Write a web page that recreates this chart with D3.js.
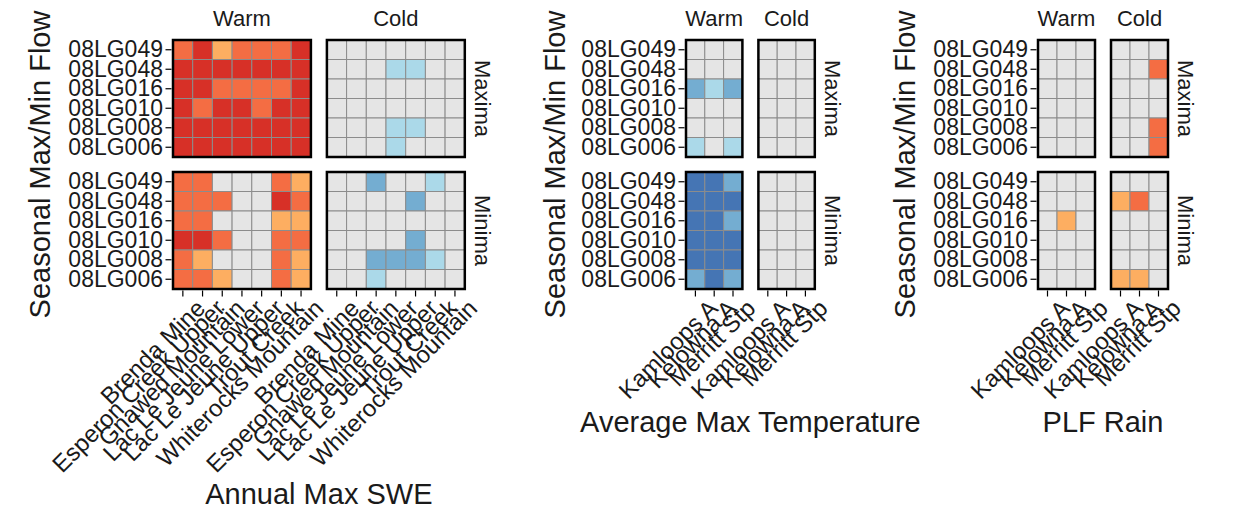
<!DOCTYPE html>
<html>
<head>
<meta charset="utf-8">
<script src="https://cdn.jsdelivr.net/npm/d3@7"></script>
<style>
  body { margin: 0; background: #fff; }
  text { font-family: "Liberation Sans", Arial, sans-serif; fill: #1a1a1a; }
</style>
</head>
<body>
<div id="chart"></div>
<script>
// rows of every facet, top to bottom
var gauges = ["08LG049", "08LG048", "08LG016", "08LG010", "08LG008", "08LG006"];
var seasons = ["Warm", "Cold"];
var extremes = ["Maxima", "Minima"];

var sweSites = ["Brenda Mine", "Esperon Creek Upper", "Gnawed Mountain", "Lac Le Jeune Lower",
                "Lac Le Jeune Upper", "Trout Creek", "Whiterocks Mountain"];
var climSites = ["Kamloops A", "Kelowna A", "Merritt Stp"];

// class of each cell: 3..1 positive (reds), 0 none, -1..-3 negative (blues)
var sweWarmMax = [[2,3,1,2,2,2,3],[3,3,3,3,3,3,3],[3,3,2,2,2,2,3],[3,2,3,3,2,3,3],[3,3,3,3,3,3,3],[3,3,3,3,3,3,3]];
var sweColdMax = [[0,0,0,0,0,0,0],[0,0,0,-1,-1,0,0],[0,0,0,0,0,0,0],[0,0,0,0,0,0,0],[0,0,0,-1,-1,0,0],[0,0,0,-1,0,0,0]];
var sweWarmMin = [[2,2,0,0,0,2,1],[2,2,2,0,0,3,2],[2,2,0,0,0,1,1],[3,3,2,0,0,2,2],[2,1,0,0,0,2,1],[2,2,1,0,0,2,1]];
var sweColdMin = [[0,0,-2,0,0,-1,0],[0,0,0,0,-2,0,0],[0,0,0,0,0,0,0],[0,0,0,0,-2,0,0],[0,0,-2,-2,-2,-1,0],[0,0,-1,0,0,0,0]];

var tmpWarmMax = [[0,0,0],[0,0,0],[-2,-1,-2],[0,0,0],[0,0,0],[-1,0,-1]];
var tmpColdMax = [[0,0,0],[0,0,0],[0,0,0],[0,0,0],[0,0,0],[0,0,0]];
var tmpWarmMin = [[-3,-3,-2],[-3,-3,-3],[-3,-3,-2],[-3,-3,-3],[-3,-3,-3],[-2,-3,-2]];
var tmpColdMin = [[0,0,0],[0,0,0],[0,0,0],[0,0,0],[0,0,0],[0,0,0]];

var rainWarmMax = [[0,0,0],[0,0,0],[0,0,0],[0,0,0],[0,0,0],[0,0,0]];
var rainColdMax = [[0,0,0],[0,0,2],[0,0,0],[0,0,0],[0,0,2],[0,0,2]];
var rainWarmMin = [[0,0,0],[0,0,0],[0,1,0],[0,0,0],[0,0,0],[0,0,0]];
var rainColdMin = [[0,0,0],[1,2,0],[0,0,0],[0,0,0],[0,0,0],[1,1,0]];

var color = d3.scaleOrdinal()
    .domain([-3, -2, -1, 0, 1, 2, 3])
    .range(["#4575b4", "#74add1", "#abd9e9", "#e5e5e5", "#fdae61", "#f46d43", "#d73027"]);

var svg = d3.select("#chart").append("svg")
    .attr("width", 1246)
    .attr("height", 512);

var top1 = 40, panelH = 117, vGap = 15;

function heatmap(opt) {
    var g = svg.append("g");
    var cellW = opt.cellW;
    var panelW = cellW * opt.sites.length;
    var y = d3.scaleBand().domain(gauges).range([0, panelH]);
    var x = d3.scaleBand().domain(opt.sites).range([0, panelW]);

    opt.data.forEach(function(rowData, ei) {
        rowData.forEach(function(mat, si) {
            var px = opt.left + si * (panelW + opt.hGap);
            var py = top1 + ei * (panelH + vGap);
            var p = g.append("g").attr("transform", "translate(" + px + "," + py + ")");
            var cells = [];
            mat.forEach(function(r, ri) {
                r.forEach(function(v, ci) {
                    cells.push({g: gauges[ri], s: opt.sites[ci], v: v});
                });
            });
            p.selectAll("rect.cell").data(cells).enter().append("rect")
                .attr("class", "cell")
                .attr("x", function(d) { return x(d.s); })
                .attr("y", function(d) { return y(d.g); })
                .attr("width", x.bandwidth())
                .attr("height", y.bandwidth())
                .attr("fill", function(d) { return color(d.v); })
                .attr("stroke", "#8c8c8c")
                .attr("stroke-width", 1);
            p.append("rect")
                .attr("width", panelW).attr("height", panelH)
                .attr("fill", "none").attr("stroke", "#000").attr("stroke-width", 2.5);

            if (si === 0) {
                var ya = p.append("g").call(d3.axisLeft(y).tickSize(6).tickPadding(4));
                ya.select(".domain").remove();
                ya.selectAll("line").attr("stroke", "#000").attr("stroke-width", 1.2).attr("transform", "translate(-1.5,0)");
                ya.selectAll("text").attr("font-size", 23).attr("fill", "#1a1a1a")
                    .attr("font-family", "Liberation Sans, Arial, sans-serif");
            }
            if (ei === 1) {
                var xa = p.append("g").attr("transform", "translate(0," + panelH + ")")
                    .call(d3.axisBottom(x).tickSize(6).tickPadding(2));
                xa.select(".domain").remove();
                xa.selectAll("line").attr("stroke", "#000").attr("stroke-width", 1.2).attr("transform", "translate(0,1.5)");
                xa.selectAll("text")
                    .attr("font-size", 24).attr("fill", "#1a1a1a")
                    .attr("font-family", "Liberation Sans, Arial, sans-serif")
                    .style("text-anchor", "end")
                    .attr("dy", "0.6em")
                    .attr("transform", "translate(8,5) rotate(-45)");
            }
            if (ei === 0) {
                p.append("text").attr("x", panelW / 2).attr("y", -14)
                    .attr("text-anchor", "middle").attr("font-size", 22).text(seasons[si]);
            }
            if (si === 1) {
                p.append("text")
                    .attr("transform", "translate(" + (panelW + 10) + "," + (panelH / 2) + ") rotate(90)")
                    .attr("text-anchor", "middle").attr("font-size", 22).text(extremes[ei]);
            }
        });
    });

    g.append("text")
        .attr("transform", "translate(" + opt.yTitleX + "," + (top1 + panelH + vGap / 2) + ") rotate(-90)")
        .attr("text-anchor", "middle").attr("font-size", 29).text("Seasonal Max/Min Flow");

    g.append("text")
        .attr("x", opt.left + panelW + opt.hGap / 2).attr("y", opt.xTitleY)
        .attr("text-anchor", "middle").attr("font-size", 29).text(opt.title);
}

heatmap({left: 173, cellW: 19.7, hGap: 16, sites: sweSites,
         data: [[sweWarmMax, sweColdMax], [sweWarmMin, sweColdMin]],
         yTitleX: 50, xTitleY: 504, title: "Annual Max SWE"});

heatmap({left: 686, cellW: 18.8, hGap: 16, sites: climSites,
         data: [[tmpWarmMax, tmpColdMax], [tmpWarmMin, tmpColdMin]],
         yTitleX: 565, xTitleY: 432, title: "Average Max Temperature"});

heatmap({left: 1038, cellW: 19, hGap: 16, sites: climSites,
         data: [[rainWarmMax, rainColdMax], [rainWarmMin, rainColdMin]],
         yTitleX: 915, xTitleY: 432, title: "PLF Rain"});
</script>
</body>
</html>
